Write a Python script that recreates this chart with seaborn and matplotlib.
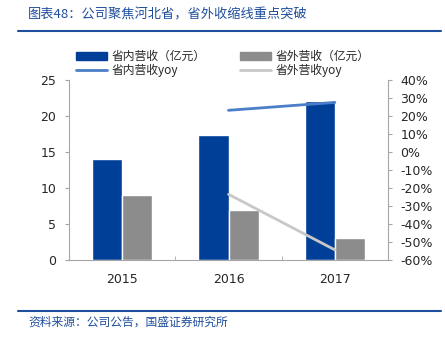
import matplotlib
matplotlib.use("Agg")
import matplotlib.pyplot as plt
import seaborn as sns
import pandas as pd
from matplotlib.lines import Line2D
from matplotlib.patches import Patch
from matplotlib.ticker import FuncFormatter, MultipleLocator

years = ["2015", "2016", "2017"]
domestic = [14.1, 17.3, 22.1]
outside = [9.0, 6.9, 3.1]
yoy_years = ["2016", "2017"]
domestic_yoy = [23.2, 27.6]
outside_yoy = [-23.5, -54.4]

s_dom = "省内营收（亿元）"
s_out = "省外营收（亿元）"
s_dom_yoy = "省内营收yoy"
s_out_yoy = "省外营收yoy"

c_dom = "#003F98"
c_out = "#8C8C8C"
c_dom_l = "#4A7EC8"
c_out_l = "#C8C8C8"
c_title = "#1F4E9C"

sns.set_style("white")
plt.rcParams["font.family"] = ["DejaVu Sans", "Noto Sans CJK SC"]

df = pd.DataFrame({
    "year": years * 2,
    "val": domestic + outside,
    "series": [s_dom] * 3 + [s_out] * 3,
})

fig = plt.figure(figsize=(4.45, 3.38), dpi=100)
ax = fig.add_axes([0.155, 0.231, 0.717, 0.532])
sns.barplot(data=df, x="year", y="val", hue="series", order=years,
            palette=[c_dom, c_out], width=0.57, ax=ax, legend=False,
            saturation=1)
ax.set_ylim(0, 25)
ax.set_xlim(-0.5, 2.5)
ax.yaxis.set_major_locator(MultipleLocator(5))
ax.set_xlabel("")
ax.set_ylabel("")

ax2 = ax.twinx()
xpos = [years.index(y) for y in yoy_years]
yoy_df = pd.DataFrame({"x": xpos * 2, "v": domestic_yoy + outside_yoy,
                       "s": [s_dom_yoy] * 2 + [s_out_yoy] * 2})
sns.lineplot(data=yoy_df, x="x", y="v", hue="s", palette=[c_dom_l, c_out_l],
             linewidth=2, ax=ax2, legend=False)
ax2.set_ylim(-60, 40)
ax2.yaxis.set_major_locator(MultipleLocator(10))
ax2.yaxis.set_major_formatter(FuncFormatter(lambda v, p: f"{v:.0f}%"))
ax2.set_xlabel("")
ax2.set_ylabel("")
ax.set_xlim(-0.5, 2.5)

spine_c = "#A6A6A6"
for a in (ax, ax2):
    a.spines["top"].set_visible(False)
    for s in ("left", "right", "bottom"):
        a.spines[s].set_color(spine_c)
        a.spines[s].set_linewidth(0.8)
ax.spines["right"].set_visible(False)
ax2.spines["left"].set_visible(False)
ax2.spines["bottom"].set_visible(False)

ax.tick_params(axis="y", left=True, length=3, color=spine_c, labelsize=9, pad=6)
ax2.tick_params(axis="y", right=True, length=3, color=spine_c, labelsize=9, pad=6)
ax.tick_params(axis="x", bottom=False, labelsize=9, pad=6)
ax.set_xticks([0.5, 1.5], minor=True)
ax.tick_params(axis="x", which="minor", bottom=True, direction="in", length=3, color=spine_c)

handles = [Patch(color=c_dom, label=s_dom), Line2D([], [], color=c_dom_l, lw=2, label=s_dom_yoy),
           Patch(color=c_out, label=s_out), Line2D([], [], color=c_out_l, lw=2, label=s_out_yoy)]
fig.legend(handles=handles, ncol=2, loc="upper left", bbox_to_anchor=(0.15, 0.88),
           frameon=False, handlelength=2.6, handleheight=0.6, borderpad=0.3,
           columnspacing=2.9, labelspacing=0.1, handletextpad=0.4,
           prop={"family": ["Noto Sans CJK SC", "DejaVu Sans"], "size": 8.5})

fig.text(0.063, 0.955, "图表48：公司聚焦河北省，省外收缩线重点突破", color=c_title,
         fontsize=9.5, style="italic", family=["Noto Sans CJK SC", "DejaVu Sans"],
         va="center", ha="left")
fig.add_artist(Line2D([0.04, 0.99], [0.908, 0.908], color=c_title, lw=1.5))
fig.add_artist(Line2D([0.04, 0.99], [0.08, 0.08], color=c_title, lw=1.5))
fig.text(0.063, 0.048, "资料来源：公司公告，国盛证券研究所", color=c_title,
         fontsize=8.5, style="italic", family=["Noto Sans CJK SC", "DejaVu Sans"],
         va="center", ha="left")

fig.savefig("out.png", dpi=100)
